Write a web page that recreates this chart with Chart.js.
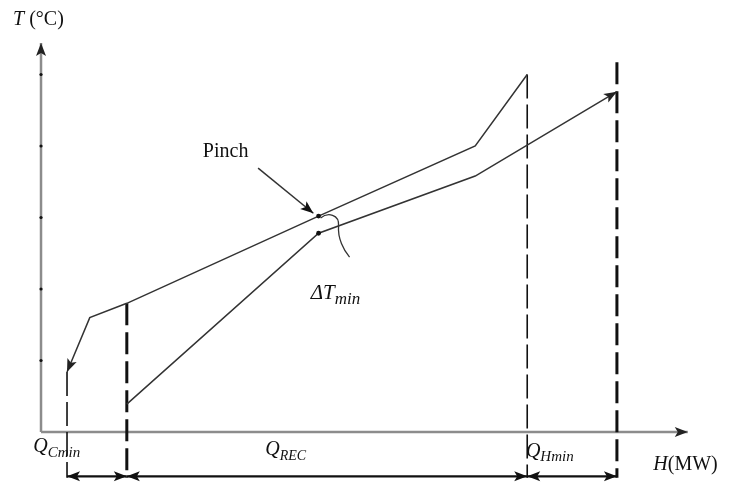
<!DOCTYPE html>
<html>
<head>
<meta charset="utf-8">
<script src="https://cdn.jsdelivr.net/npm/chart.js@4.4.0/dist/chart.umd.min.js"></script>
<style>
  body { margin: 0; background: #fff; }
  #wrap { width: 731px; height: 483px; }
</style>
</head>
<body>
<div id="wrap"><canvas id="pinchChart" width="731" height="483"></canvas></div>
<script>
// hot composite curve, from its top end down to the cold-utility end
const hotH = [74.8, 66.8, 42.7, 13.2, 7.5, 4.0];
const hotT = [5.0, 4.0, 3.02, 1.8, 1.6, 0.84];
// cold composite curve, from its bottom end up to the hot-utility end
const coldH = [13.2, 42.7, 66.8, 88.6];
const coldT = [0.39, 2.78, 3.58, 4.76];
// vertical boundaries of Q_Cmin / Q_REC / Q_Hmin
const boundH = [4.0, 13.2, 74.8, 88.6];
const boundTop = [0.84, 1.8, 5.0, 5.17];
const boundHeavy = [false, true, false, true];
// pinch point on both curves
const pinchH = 42.7;
const pinchT = [3.02, 2.78];
// small tick dots on the T axis
const tempTicks = [1, 2, 3, 4, 5];

const axisTop = 5.44, axisRight = 99.5, spanLevel = -0.62, boundBottom = -0.64;

const pts = (xs, ys) => xs.map((x, i) => ({ x: x, y: ys[i] }));

const datasets = [];
// axes
datasets.push({ data: [{ x: 0, y: 0 }, { x: 0, y: axisTop }], borderColor: '#8c8c8c', borderWidth: 2.5, arrow: 'end', arrowColor: '#222', order: 10 });
datasets.push({ data: [{ x: 0, y: 0 }, { x: axisRight, y: 0 }], borderColor: '#8c8c8c', borderWidth: 2.5, arrow: 'end', arrowColor: '#222', order: 10 });
datasets.push({ type: 'scatter', data: tempTicks.map(t => ({ x: 0, y: t })), pointRadius: 1.6, pointBackgroundColor: '#111', pointBorderWidth: 0, order: 9 });
// dashed boundaries
boundH.forEach((h, i) => {
  datasets.push({
    data: [{ x: h, y: boundTop[i] }, { x: h, y: boundBottom }],
    borderColor: '#111', borderWidth: boundHeavy[i] ? 3 : 1.6,
    borderDash: boundHeavy[i] ? [22, 7] : [24, 6], order: 5
  });
});
// composite curves
datasets.push({ data: pts(hotH, hotT), borderColor: '#333', borderWidth: 1.5, arrow: 'end', arrowColor: '#222', order: 2 });
datasets.push({ data: pts(coldH, coldT), borderColor: '#333', borderWidth: 1.5, arrow: 'end', arrowColor: '#222', order: 2 });
datasets.push({ type: 'scatter', data: pinchT.map(t => ({ x: pinchH, y: t })), pointRadius: 2.4, pointBackgroundColor: '#111', pointBorderWidth: 0, order: 1 });
// arrow pointing at the pinch
datasets.push({ data: [{ x: 33.4, y: 3.69 }, { x: 41.9, y: 3.06 }], borderColor: '#333', borderWidth: 1.5, arrow: 'end', arrowColor: '#111', order: 1 });
// double-headed span arrows along the bottom
for (let i = 0; i < boundH.length - 1; i++) {
  datasets.push({
    data: [{ x: boundH[i], y: spanLevel }, { x: boundH[i + 1], y: spanLevel }],
    borderColor: '#111', borderWidth: 2.4, arrow: 'both', arrowColor: '#111', order: 3
  });
}
datasets.forEach(d => {
  if (!d.type) d.type = 'line';
  d.pointRadius = d.pointRadius || 0;
  d.fill = false;
  d.clip = false;
  d.tension = 0;
});

const labels = [
  { h: -4.3, t: 5.69, runs: [['T', 'italic 20px "Liberation Serif"', 0], [' (°C)', '20px "Liberation Serif"', 0]] },
  { h: 24.9, t: 3.85, runs: [['Pinch', '20px "Liberation Serif"', 0]] },
  { h: 41.5, t: 1.86, runs: [['ΔT', 'italic 21px "Liberation Serif"', 0], ['min', 'italic 17px "Liberation Serif"', 5]] },
  { h: -1.2, t: -0.28, runs: [['Q', 'italic 20px "Liberation Serif"', 0], ['Cmin', 'italic 15px "Liberation Serif"', 5]] },
  { h: 34.5, t: -0.32, runs: [['Q', 'italic 20px "Liberation Serif"', 0], ['REC', 'italic 14px "Liberation Serif"', 5]] },
  { h: 74.6, t: -0.35, runs: [['Q', 'italic 20px "Liberation Serif"', 0], ['Hmin', 'italic 15px "Liberation Serif"', 4]] },
  { h: 94.2, t: -0.53, runs: [['H', 'italic 20px "Liberation Serif"', 0], ['(MW)', '20px "Liberation Serif"', 0]] }
];

function arrowHead(ctx, x, y, fromX, fromY, color) {
  const a = Math.atan2(y - fromY, x - fromX);
  const len = 13, half = 5;
  ctx.save();
  ctx.translate(x, y);
  ctx.rotate(a);
  ctx.fillStyle = color;
  ctx.beginPath();
  ctx.moveTo(0, 0);
  ctx.lineTo(-len, -half);
  ctx.lineTo(-len + 3, 0);
  ctx.lineTo(-len, half);
  ctx.closePath();
  ctx.fill();
  ctx.restore();
}

const decorations = {
  id: 'decorations',
  afterDatasetsDraw(chart) {
    const ctx = chart.ctx;
    const xs = chart.scales.x, ys = chart.scales.y;
    chart.data.datasets.forEach((ds, i) => {
      if (!ds.arrow) return;
      const p = chart.getDatasetMeta(i).data;
      const n = p.length;
      arrowHead(ctx, p[n - 1].x, p[n - 1].y, p[n - 2].x, p[n - 2].y, ds.arrowColor);
      if (ds.arrow === 'both') arrowHead(ctx, p[0].x, p[0].y, p[1].x, p[1].y, ds.arrowColor);
    });

    // curly brace marking ΔTmin
    const px = xs.getPixelForValue(pinchH), py = ys.getPixelForValue(pinchT[0]);
    ctx.save();
    ctx.strokeStyle = '#333';
    ctx.lineWidth = 1.3;
    ctx.beginPath();
    ctx.moveTo(px + 2, py + 2);
    ctx.bezierCurveTo(px + 9, py - 4, px + 21, py - 2, px + 20, py + 10);
    ctx.bezierCurveTo(px + 19, py + 22, px + 25, py + 34, px + 31, py + 41);
    ctx.stroke();
    ctx.restore();

    ctx.save();
    ctx.fillStyle = '#111';
    ctx.textBaseline = 'alphabetic';
    labels.forEach(l => {
      let x = xs.getPixelForValue(l.h);
      const y = ys.getPixelForValue(l.t);
      l.runs.forEach(r => {
        ctx.font = r[1];
        ctx.fillText(r[0], x, y + r[2]);
        x += ctx.measureText(r[0]).width;
      });
    });
    ctx.restore();
  }
};

new Chart(document.getElementById('pinchChart'), {
  data: { datasets: datasets },
  options: {
    responsive: false,
    animation: false,
    layout: { padding: 0, autoPadding: false },
    plugins: { legend: { display: false }, tooltip: { enabled: false } },
    scales: {
      x: { type: 'linear', display: false, min: -6.31, max: 106.15 },
      y: { type: 'linear', display: false, min: -0.713, max: 6.042 }
    }
  },
  plugins: [decorations]
});
</script>
</body>
</html>
